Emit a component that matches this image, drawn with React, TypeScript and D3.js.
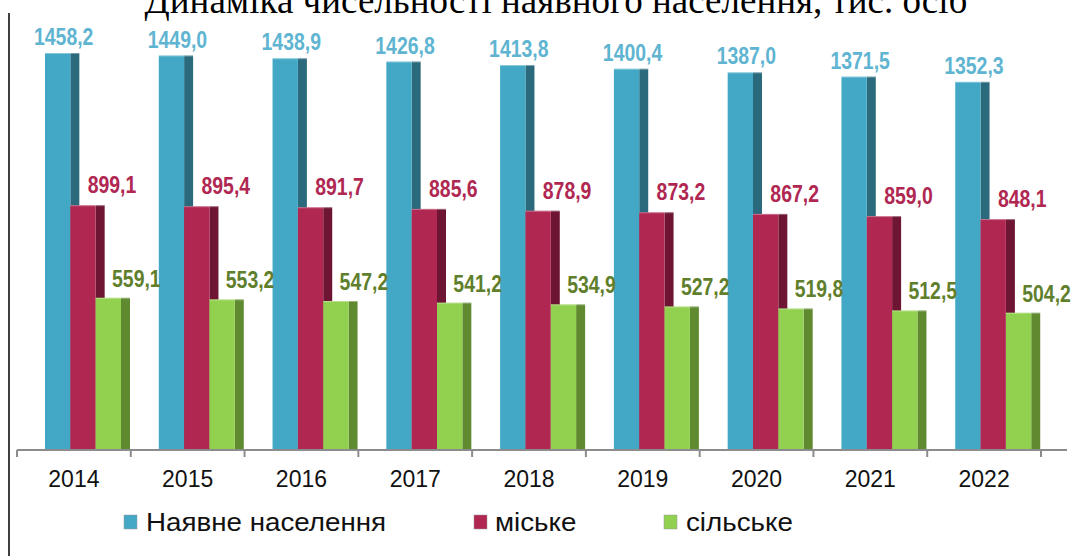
import * as d3 from "d3";

const width = 1074;
const height = 556;

const years = ["2014", "2015", "2016", "2017", "2018", "2019", "2020", "2021", "2022"];
const total = [1458.2, 1449.0, 1438.9, 1426.8, 1413.8, 1400.4, 1387.0, 1371.5, 1352.3];
const urban = [899.1, 895.4, 891.7, 885.6, 878.9, 873.2, 867.2, 859.0, 848.1];
const rural = [559.1, 553.2, 547.2, 541.2, 534.9, 527.2, 519.8, 512.5, 504.2];
const seriesNames = ["Наявне населення", "міське", "сільське"];
const title = "Динаміка  чисельності наявного населення, тис. осіб";

const frontColors = ["#42a8c6", "#b02752", "#92d050"];
const sideColors = ["#2a6a7c", "#6d1532", "#5f8a30"];
const labelColors = ["#5fb5d1", "#b02752", "#5f7f2c"];
const labelDx = [6, 29, 28];
const labelDy = [-8, -12, -11];

const baseY = 450;
const depth = 9;

const fmt = (v: number) => d3.format(".1f")(v).replace(".", ",");

const App = () => {
  const series = [total, urban, rural];

  const x = d3.scaleBand<string>().domain(years).range([17, 1041]);
  const inner = d3
    .scaleBand<number>()
    .domain([0, 1, 2])
    .range([28, 28 + 76]);
  const y = d3.scaleLinear().domain([0, 1600]).range([baseY, 14.4]);

  const bw = inner.bandwidth();
  const tickXs = years.map((yr) => x(yr)!).concat([x.range()[1]]);

  const legendItems = [
    { sq: 124, tx: 146 },
    { sq: 474, tx: 495 },
    { sq: 664, tx: 686 },
  ];

  return (
    <svg width={width} height={height} style={{ position: "absolute", left: 0, top: 0 }}>
      <rect width={width} height={height} fill="#fff" />
      <text
        x={556}
        y={12.5}
        textAnchor="middle"
        fontFamily="'Liberation Serif', 'Times New Roman', serif"
        fontSize={37}
        fill="#000"
      >
        {title}
      </text>
      <line x1={9} x2={9} y1={13} y2={height} stroke="#000" strokeWidth={1.5} />

      {years.map((yr, i) => (
        <g key={yr} transform={`translate(${x(yr)},0)`}>
          {series.map((s, k) => {
            const top = y(s[i]);
            const x0 = inner(k)!;
            return (
              <g key={k}>
                <rect x={x0 + bw} y={top} width={depth} height={baseY - top} fill={sideColors[k]} />
                <rect x={x0} y={top} width={bw} height={baseY - top} fill={frontColors[k]} />
                <line x1={x0} x2={x0 + bw + depth} y1={top + 0.5} y2={top + 0.5} stroke="#fff" strokeOpacity={0.35} />
              </g>
            );
          })}
        </g>
      ))}

      {years.map((yr, i) =>
        series.map((s, k) => (
          <text
            key={yr + k}
            transform={`translate(${x(yr)! + inner(k)! + bw / 2 + labelDx[k]},${y(s[i]) + labelDy[k]}) scale(0.81,1)`}
            textAnchor="middle"
            fontFamily="'Liberation Sans', Arial, sans-serif"
            fontWeight="bold"
            fontSize={24}
            fill={labelColors[k]}
          >
            {fmt(s[i])}
          </text>
        ))
      )}

      <line x1={17} x2={1067} y1={baseY} y2={baseY} stroke="#8c8c8c" strokeWidth={2} />
      {tickXs.map((tx, i) => (
        <line key={i} x1={tx} x2={tx} y1={baseY} y2={baseY + 7} stroke="#8c8c8c" strokeWidth={2} />
      ))}
      {years.map((yr) => (
        <text
          key={yr}
          x={x(yr)! + x.bandwidth() / 2}
          y={487}
          textAnchor="middle"
          fontFamily="'Liberation Sans', Arial, sans-serif"
          fontSize={23}
          fill="#111"
        >
          {yr}
        </text>
      ))}

      {seriesNames.map((name, k) => (
        <g key={name}>
          <rect
            x={legendItems[k].sq}
            y={515}
            width={13}
            height={14}
            fill={frontColors[k]}
            stroke="#999"
            strokeWidth={0.5}
          />
          <text
            transform={`translate(${legendItems[k].tx},531) scale(1.11,1)`}
            fontFamily="'Liberation Sans', Arial, sans-serif"
            fontSize={25}
            fill="#111"
          >
            {name}
          </text>
        </g>
      ))}
    </svg>
  );
};

export default App;
